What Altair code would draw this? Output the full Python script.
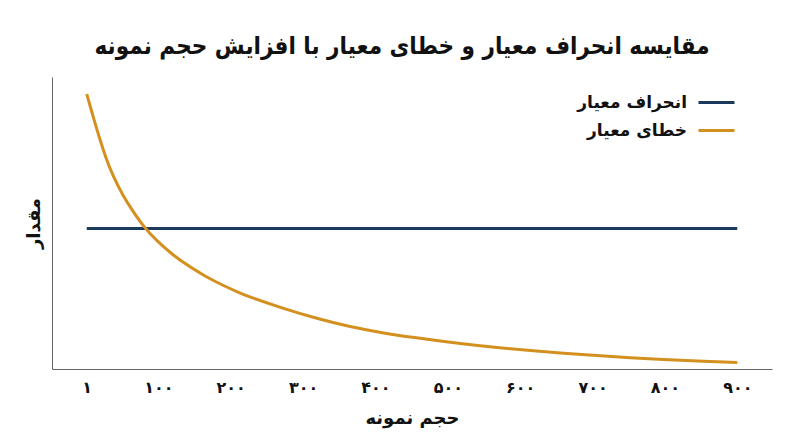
import pandas as pd
import altair as alt

TITLE = "مقایسه انحراف معیار و خطای معیار با افزایش حجم نمونه"
X_TITLE = "حجم نمونه"
Y_TITLE = "مقدار"
SERIES = ["انحراف معیار", "خطای معیار"]
COLORS = ["#1b3a5e", "#d4901f"]

# x tick values and their Persian labels
TICK_VALUES = [1, 100, 200, 300, 400, 500, 600, 700, 800, 900]
TICK_LABELS = ["۱", "۱۰۰", "۲۰۰", "۳۰۰", "۴۰۰", "۵۰۰", "۶۰۰", "۷۰۰", "۸۰۰", "۹۰۰"]

# standard deviation: flat line
SD_N = [1, 900]
SD_VALUES = [10.0, 10.0]

# standard error
SE_N = [1, 10, 19, 28, 37, 51, 65, 81, 98, 120, 144, 167, 190, 213, 227,
        273, 319, 365, 411, 448, 522, 568, 614, 660, 706, 752, 798, 844, 900]
SE_VALUES = [19.59, 17.95, 16.38, 14.96, 13.77, 12.35, 11.22, 10.05, 9.12,
             8.12, 7.25, 6.53, 5.94, 5.40, 5.11, 4.31, 3.59, 3.00, 2.56, 2.27,
             1.78, 1.53, 1.31, 1.12, 0.95, 0.80, 0.68, 0.58, 0.46]

FONT = "DejaVu Sans"
TITLE_FONT = "DejaVu Sans Condensed, DejaVu Sans"

df = pd.concat(
    [
        pd.DataFrame({"n": SD_N, "value": SD_VALUES, "series": SERIES[0]}),
        pd.DataFrame({"n": SE_N, "value": SE_VALUES, "series": SERIES[1]}),
    ]
)

label_expr = " : ".join(
    f"datum.value == {v} ? '{lab}'" for v, lab in zip(TICK_VALUES, TICK_LABELS)
) + " : ''"

chart = (
    alt.Chart(df, width=720, height=292)
    .mark_line(strokeWidth=3, interpolate="basis")
    .encode(
        x=alt.X(
            "n:Q",
            scale=alt.Scale(domain=[-47, 948], nice=False, zero=False),
            axis=alt.Axis(
                values=TICK_VALUES,
                labelExpr=label_expr,
                ticks=False,
                grid=False,
                labelPadding=10,
                labelFontSize=16,
                labelFont=FONT,
                labelFontWeight="bold",
                labelColor="#111",
                titleFontSize=18,
                titleFont=FONT,
                titleFontWeight="bold",
                titleColor="#111",
                titlePadding=14,
                domainColor="#666",
            ),
            title=X_TITLE,
        ),
        y=alt.Y(
            "value:Q",
            scale=alt.Scale(domain=[0, 20.8], nice=False),
            axis=alt.Axis(
                labels=False,
                ticks=False,
                grid=False,
                titleFontSize=18,
                titleFont=FONT,
                titleFontWeight="bold",
                titleColor="#111",
                titlePadding=9,
                domainColor="#666",
            ),
            title=Y_TITLE,
        ),
        color=alt.Color(
            "series:N",
            scale=alt.Scale(domain=SERIES, range=COLORS),
            legend=alt.Legend(
                title=None,
                orient="none",
                legendX=645,
                legendY=6,
                symbolType="stroke",
                symbolSize=1296,
                symbolStrokeWidth=3,
                labelAlign="right",
                labelOffset={"expr": "-49"},
                labelFontSize=17,
                labelFont=FONT,
                labelFontWeight="bold",
                labelColor="#111",
                rowPadding={"expr": "-8"},
                padding=0,
            ),
        ),
    )
    .properties(
        title=alt.TitleParams(
            TITLE, fontSize=24, font=TITLE_FONT, fontWeight="bold", color="#111",
            anchor="middle", dx=-10, offset=18,
        ),
        autosize=alt.AutoSizeParams(type="none"),
        padding={"left": 44, "top": 69, "right": 20, "bottom": 70},
    )
    .configure_view(stroke=None)
)

chart.save("out.html", embed_options={"renderer": "svg", "actions": False})
